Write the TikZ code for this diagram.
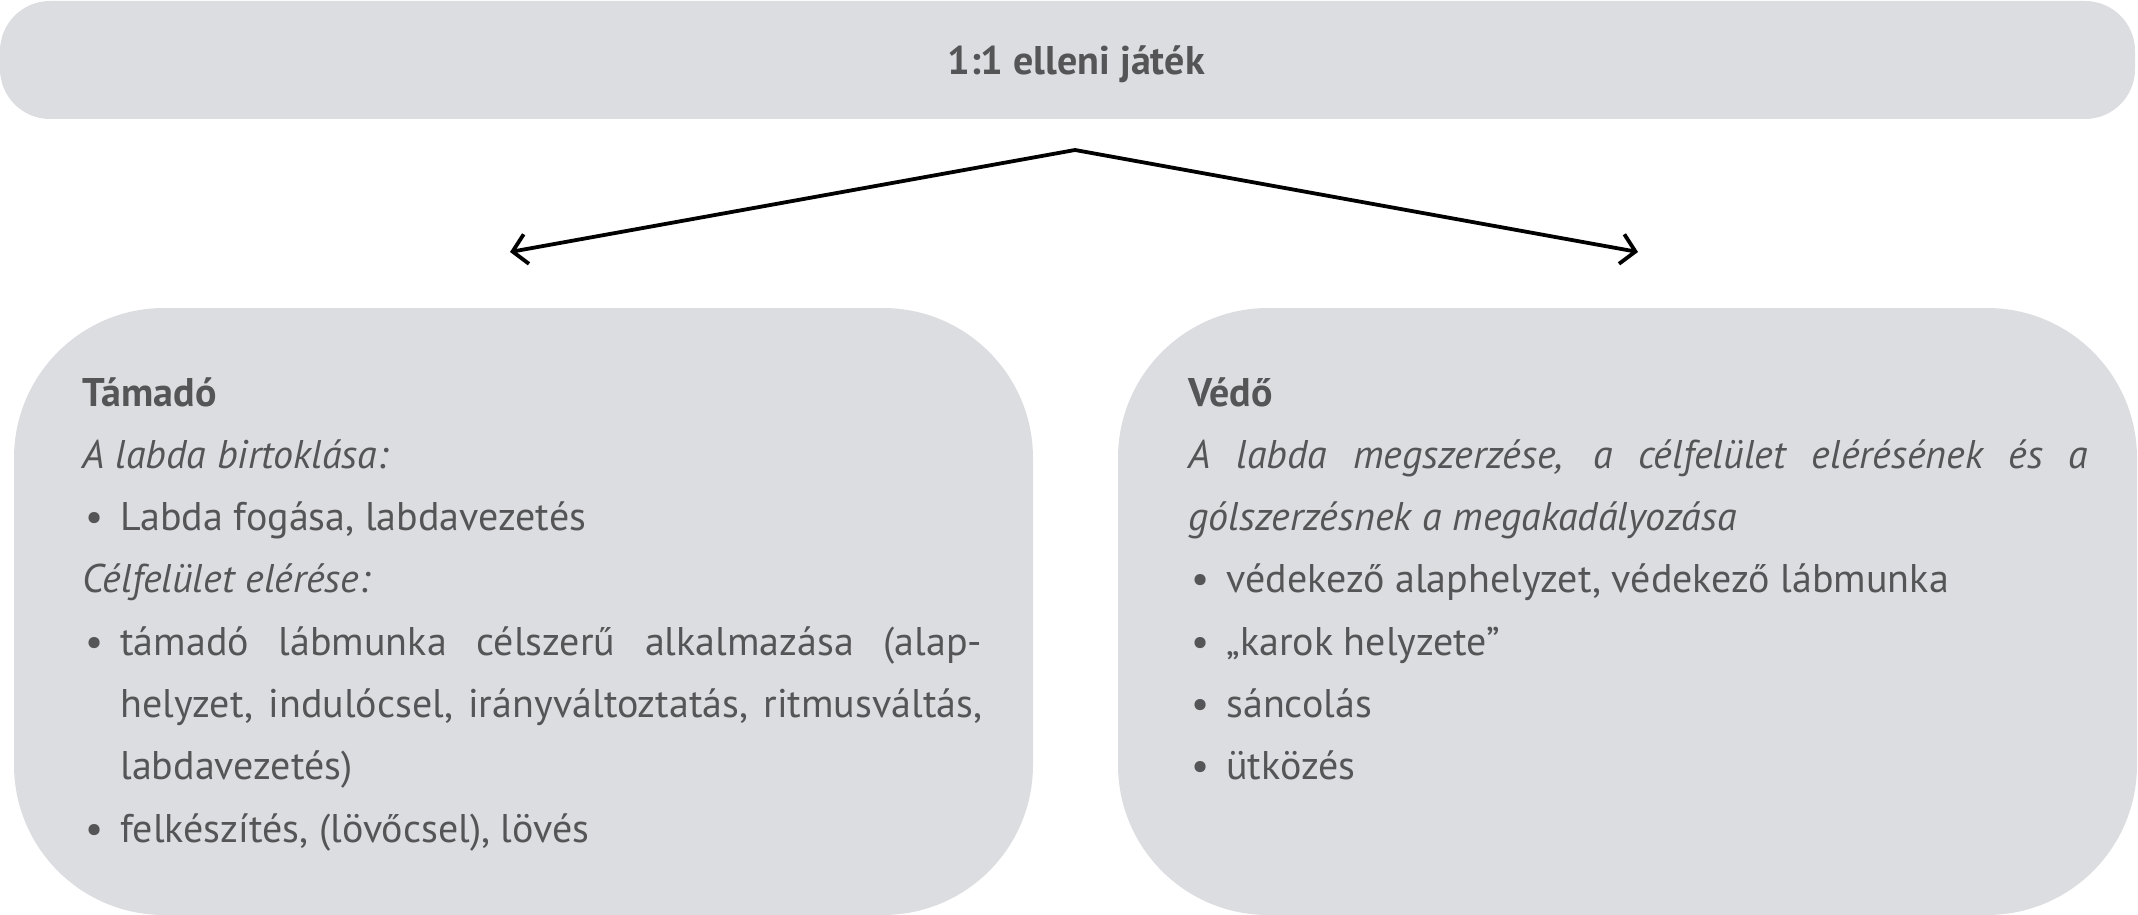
\documentclass[tikz,border=0pt]{standalone}
\usepackage{fontspec}
\setmainfont{PT Sans}
\usetikzlibrary{arrows.meta}
\definecolor{boxfill}{RGB}{220,221,224}
\definecolor{txtcol}{RGB}{85,85,87}
\newcommand\bulitem{\par\noindent\hangindent=19pt\hangafter=1\makebox[19pt][l]{\hspace{1.5pt}•}}
\newcommand\nohyph{\hyphenpenalty=10000 \exhyphenpenalty=10000 \relax}
\begin{document}
\begin{tikzpicture}[x=0.5pt,y=-0.5pt,
  banner/.style={fill=boxfill, rounded corners=25pt},
  bigbox/.style={fill=boxfill, rounded corners=75pt},
  bodytext/.style={text=txtcol, text width=450pt, align=justify, inner sep=0pt, anchor=base west,
    font=\fontsize{20}{31.15}\selectfont},
  link/.style={draw=black, line width=1.9pt, {Straight Barb[length=7pt,width=15pt,line width=1.9pt]}-{Straight Barb[length=7pt,width=15pt,line width=1.9pt]}}
]
\useasboundingbox (0,0) rectangle (2138,915);
\fill[banner] (0,1) rectangle (2135,119);
\node[text=txtcol, font=\fontsize{20}{24}\selectfont\bfseries, anchor=base, inner sep=0pt] (title) at (1076,75) {1:1 elleni játék};
\fill[bigbox] (14,308) rectangle (1033,915);
\fill[bigbox] (1118,308) rectangle (2137,915);
\coordinate (apex) at (1075,150);
\coordinate (lt) at (510,252);
\coordinate (rt) at (1638,252);
\draw[link] (lt) -- (apex) -- (rt);
\node[bodytext] (tamtext) at (82,406) {\nohyph
{\bfseries Támadó}\par
\noindent\textit{A labda birtoklása:}
\bulitem Labda fogása, labdavezetés
\par\noindent\textit{Célfelület elérése:}
\bulitem támadó lábmunka célszerű alkalmazása (alap-\linebreak helyzet, indulócsel, irányváltoztatás, ritmusváltás,\linebreak labdavezetés)
\bulitem felkészítés, (lövőcsel), lövés\par};
\node[bodytext] (vedtext) at (1188,406) {\nohyph
{\bfseries Védő}\par
\noindent\textit{A labda megszerzése, a célfelület elérésének és a\linebreak gólszerzésnek a megakadályozása}
\bulitem védekező alaphelyzet, védekező lábmunka
\bulitem „karok helyzete”
\bulitem sáncolás
\bulitem ütközés\par};
\end{tikzpicture}
\end{document}
